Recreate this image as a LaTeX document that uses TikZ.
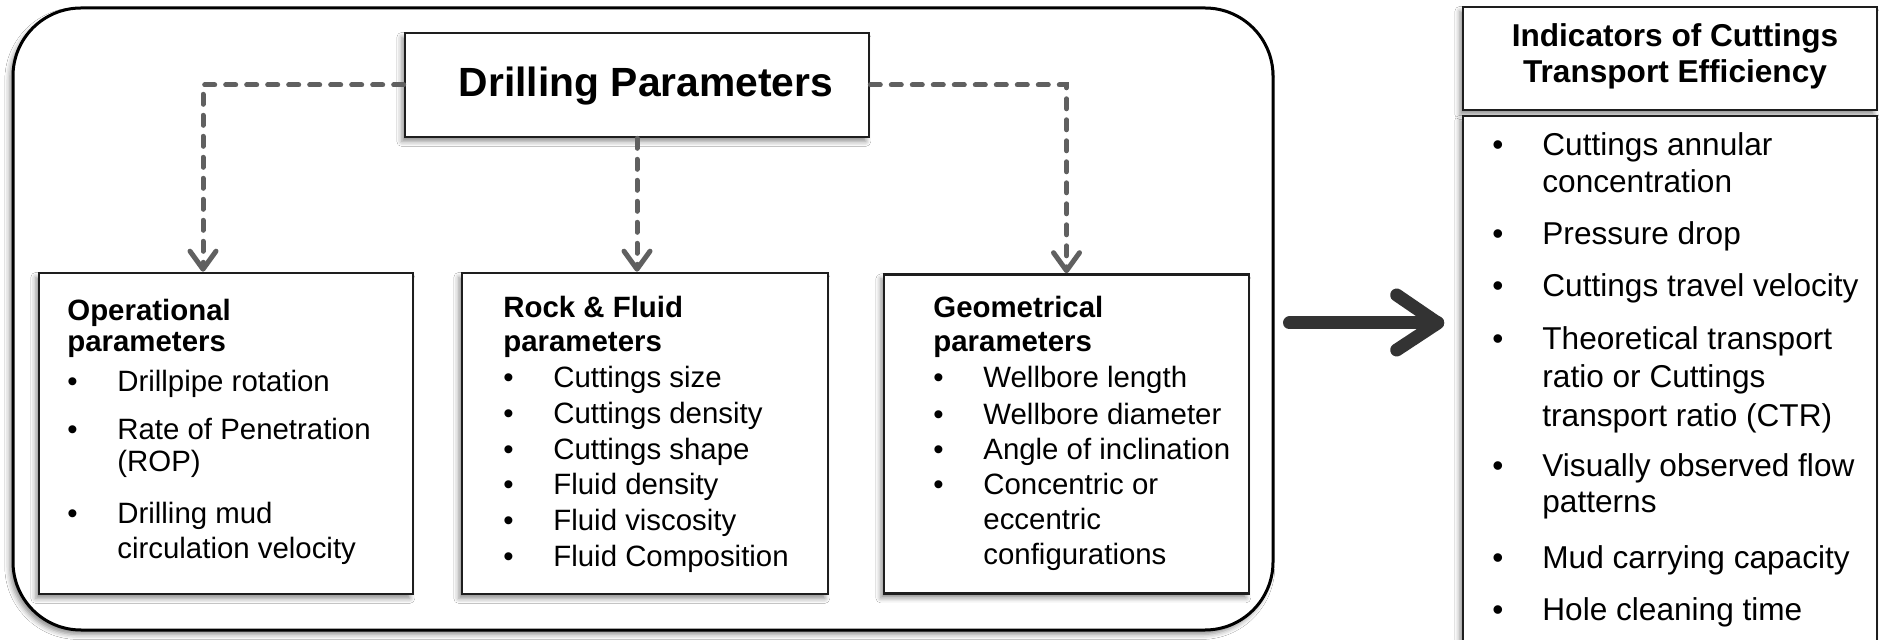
\documentclass[tikz,border=0pt]{standalone}
\usepackage{fontspec}
\setmainfont{Liberation Sans}
\usetikzlibrary{arrows.meta,shadows.blur,calc}
\definecolor{dashgray}{HTML}{606060}
\definecolor{arrdark}{HTML}{333333}
\definecolor{boxline}{HTML}{1E1E1E}
\newcommand\mybul{\makebox[25pt][l]{•}}
\newcommand\myind{\hspace*{25pt}}
\tikzset{
  shd/.style={blur shadow={shadow xshift=-1.6pt,shadow yshift=-2.2pt,shadow blur radius=2.5pt,shadow opacity=45}},
  pbox/.style={draw=boxline, line width=1.3pt, fill=white, shd, inner sep=0pt, rectangle},
  outerbox/.style={draw=black, line width=1.5pt, fill=white, rounded corners=34pt, shd, inner sep=0pt, rectangle},
  conn/.style={draw=dashgray, line width=2.5pt, dash pattern=on 5pt off 5.5pt, line cap=round,
    -{Straight Barb[length=9pt,width=13pt,round]}},
  bigarr/.style={draw=arrdark, line width=6.5pt, line cap=round, line join=round},
  lin/.style={anchor=base west, inner sep=0pt, font=\fontsize{14.7pt}{17pt}\selectfont},
  linb/.style={anchor=base west, inner sep=0pt, font=\fontsize{14.7pt}{17pt}\selectfont\bfseries},
  rlin/.style={anchor=base west, inner sep=0pt, font=\fontsize{15.8pt}{19pt}\selectfont},
  hdr/.style={anchor=base, inner sep=0pt, font=\fontsize{15.8pt}{19pt}\selectfont\bfseries},
  title/.style={anchor=base, inner sep=0pt, font=\fontsize{20.4pt}{24pt}\selectfont\bfseries},
}
\begin{document}
\begin{tikzpicture}[x=0.5pt,y=-0.5pt]
\useasboundingbox (0,0) rectangle (1879,640);
\fill[white] (0,0) rectangle (1879,640);
\clip (0,0) rectangle (1879,640);

% boxes
\node[outerbox, minimum width=630pt, minimum height=311pt] (outer) at (643,319) {};
\node[pbox, minimum width=232pt, minimum height=52pt] (dp) at (637,85) {};
\node[title] (dpt) at (646,97) {Drilling Parameters};
\node[pbox, minimum width=187pt, minimum height=160.5pt] (op) at (226,433.5) {};
\node[pbox, minimum width=183pt, minimum height=160.5pt] (rf) at (645,433.5) {};
\node[pbox, minimum width=182.5pt, minimum height=159.5pt] (geo) at (1066.5,434) {};
\node[pbox, minimum width=207pt, minimum height=51.5pt] (indh) at (1670,58.5) {};
\node[pbox, minimum width=207pt, minimum height=282pt] (indl) at (1670,398) {};

% dashed connectors
\coordinate (opin) at ($(op.north)+(-23,0)$);
\draw[conn] (dp.west) -| (opin);
\draw[conn] (dp.south) -- (dp.south |- rf.north);
\draw[conn] (dp.east) -| (geo.north);

% big arrow
\coordinate (ba) at ($(outer.east)+(15,4)$);
\coordinate (bb) at ($(indl.west |- ba)+(-24,0)$);
\draw[bigarr] (ba) -- (bb);
\draw[bigarr] ($(bb)+(-41,-28)$) -- (bb) -- ($(bb)+(-41,27)$);

% operational
\node[linb] (oph1) at (67,321) {Operational};
\node[linb] (oph2) at (67,352) {parameters};
\foreach \yy/\tx [count=\i] in {392/{\mybul Drillpipe rotation}, 440/{\mybul Rate of Penetration}, 472/{\myind (ROP)}, 524/{\mybul Drilling mud}, 559/{\myind circulation velocity}}
  \node[lin] (opt\i) at (67,\yy) {\tx};

% rock & fluid
\node[linb] (rfh1) at (503,318) {Rock \& Fluid};
\node[linb] (rfh2) at (503,352) {parameters};
\foreach \yy/\tx [count=\i] in {388/{\mybul Cuttings size}, 424/{\mybul Cuttings density}, 460/{\mybul Cuttings shape}, 495/{\mybul Fluid density}, 531/{\mybul Fluid viscosity}, 567/{\mybul Fluid Composition}}
  \node[lin] (rft\i) at (503,\yy) {\tx};

% geometrical
\node[linb] (geh1) at (933,318) {Geometrical};
\node[linb] (geh2) at (933,352) {parameters};
\foreach \yy/\tx [count=\i] in {388/{\mybul Wellbore length}, 425/{\mybul Wellbore diameter}, 460/{\mybul Angle of inclination}, 495/{\mybul Concentric or}, 530/{\myind eccentric}, 565/{\myind configurations}}
  \node[lin] (get\i) at (933,\yy) {\tx};

% indicators
\node[hdr] (inh1) at (1675,47) {Indicators of Cuttings};
\node[hdr] (inh2) at (1675,83) {Transport Efficiency};
\foreach \yy/\tx [count=\i] in {156/{\mybul Cuttings annular}, 193/{\myind concentration}, 245/{\mybul Pressure drop}, 297/{\mybul Cuttings travel velocity}, 350/{\mybul Theoretical transport}, 388/{\myind ratio or Cuttings}, 427/{\myind transport ratio (CTR)}, 477/{\mybul Visually observed flow}, 513/{\myind patterns}, 568/{\mybul Mud carrying capacity}, 620/{\mybul Hole cleaning time}}
  \node[rlin] (int\i) at (1492,\yy) {\tx};
\end{tikzpicture}
\end{document}
